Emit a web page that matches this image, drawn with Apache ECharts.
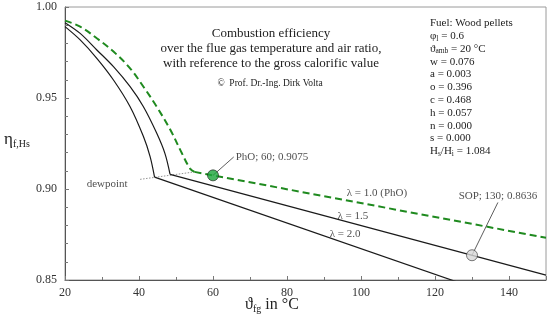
<!DOCTYPE html>
<html>
<head>
<meta charset="utf-8">
<script src="https://cdn.jsdelivr.net/npm/echarts@6/dist/echarts.min.js"></script>
<style>
html,body{margin:0;padding:0;background:#fff;}
#c{width:550px;height:325px;}
</style>
</head>
<body>
<div id="c"></div>
<script>
// ---- data ----
// curved part (above dewpoint) and straight part (below dewpoint) of each curve
const lambda10Curve = [[20,0.9925],[24.1,0.9892],[28.6,0.9828],[33.1,0.9755],[37.6,0.9663],[41.2,0.9562],[44.8,0.9452],[48.5,0.9324],[51.6,0.9196],[53.8,0.9112],[55.0,0.9094]];
const lambda10Line  = [[55.0,0.9094],[150,0.8732]];
const lambda15Curve = [[20,0.9914],[24.1,0.9855],[28.6,0.9764],[33.1,0.9672],[37.6,0.9562],[41.2,0.9452],[44.8,0.9306],[47.0,0.9196],[48.4,0.9080]];
const lambda15Line  = [[48.4,0.9080],[150,0.8527]];
const lambda20Curve = [[20,0.9892],[24.1,0.9819],[28.6,0.9718],[33.1,0.9599],[37.6,0.9452],[41.2,0.9288],[43.0,0.9178],[44.2,0.9065]];
const lambda20Line  = [[44.2,0.9065],[150,0.8320]];
const dewpointLine = [[40.3,0.9053],[55.0,0.9094]];
const phoPoint = [60, 0.9075];
const sopPoint = [130, 0.8636];
const xTicks = [20,40,60,80,100,120,140];
const yTicks = [0.85,0.90,0.95,1.00];
const lambdaNames = ['λ = 1.0 (PhO)','λ = 1.5','λ = 2.0'];
const phoText = 'PhO; 60; 0.9075';
const sopText = 'SOP; 130; 0.8636';
const dewText = 'dewpoint';

// annotation anchors (layout)
const lambdaLabelAt = [[104.3,0.8978],[97.8,0.8852],[95.7,0.8753]];
const phoLabelAt = [65.6,0.9176];
const sopLabelAt = [137.0,0.8926];
const dewLabelAt = [31.4,0.9027];

const FONT = 'Liberation Serif';
const chart = echarts.init(document.getElementById('c'), null, {renderer:'canvas'});

const blackStyle = {color:'#1a1a1a', width:1.2};
const greenStyle = {color:'#1f8a1f', width:2, type:[7,4]};
function curve(data, style, z){ return {type:'line',data:data,symbol:'none',smooth:0.35,lineStyle:style,z:z}; }
function straight(data, style, z){ return {type:'line',data:data,symbol:'none',lineStyle:style,z:z}; }

const option = {
  animation:false,
  backgroundColor:'#fff',
  textStyle:{fontFamily:FONT},
  grid:{left:65,right:4,top:7,bottom:45,show:true,borderColor:'#9a9a9a',borderWidth:1,backgroundColor:'transparent'},
  xAxis:{
    type:'value',min:20,max:150,interval:20,
    axisLine:{lineStyle:{color:'#555',width:1}},
    axisTick:{inside:true,length:4,lineStyle:{color:'#777'}},
    minorTick:{show:true,splitNumber:2,length:3,lineStyle:{color:'#777'}},
    splitLine:{show:false},
    axisLabel:{fontFamily:FONT,fontSize:12,color:'#333',margin:7,
      formatter:v=>xTicks.indexOf(v)>=0?String(v):''}
  },
  yAxis:{
    type:'value',min:0.85,max:1.0,interval:0.05,
    axisLine:{show:true,lineStyle:{color:'#555',width:1}},
    axisTick:{show:true,inside:true,length:4,lineStyle:{color:'#777'}},
    minorTick:{show:true,splitNumber:5,length:3,lineStyle:{color:'#777'}},
    splitLine:{show:false},
    axisLabel:{fontFamily:FONT,fontSize:12,color:'#333',margin:8,
      formatter:v=>v.toFixed(2)}
  },
  series:[
    {type:'line',data:dewpointLine,symbol:'none',lineStyle:{color:'#777',width:0.8,type:[1.5,1.5]},z:2},
    curve(lambda20Curve, blackStyle, 3), straight(lambda20Line, blackStyle, 3),
    curve(lambda15Curve, blackStyle, 3), straight(lambda15Line, blackStyle, 3),
    curve(lambda10Curve, greenStyle, 4), straight(lambda10Line, greenStyle, 4),
    // leader lines
    {type:'line',data:[phoPoint,phoLabelAt],symbol:'none',lineStyle:{color:'#333',width:0.8},z:5},
    {type:'line',data:[sopPoint,sopLabelAt],symbol:'none',lineStyle:{color:'#333',width:0.8},z:5},
    // markers
    {type:'scatter',data:[phoPoint],symbolSize:11,itemStyle:{color:'#1aa53a',borderColor:'#1a1a1a',borderWidth:0.8},z:6},
    {type:'scatter',data:[sopPoint],symbolSize:11,itemStyle:{color:'#d8d8d8',borderColor:'#333',borderWidth:0.8},z:6},
    // text annotations
    {type:'scatter',symbolSize:0,silent:true,z:7,
      data:lambdaLabelAt.map((p,i)=>({value:p,name:lambdaNames[i]})),
      label:{show:true,position:'inside',formatter:p=>p.name,fontFamily:FONT,fontSize:11,color:'#222'}},
    {type:'scatter',symbolSize:0,silent:true,z:7,
      data:[{value:phoLabelAt,name:phoText}],
      label:{show:true,position:'right',distance:2,formatter:p=>p.name,fontFamily:FONT,fontSize:11,color:'#222'}},
    {type:'scatter',symbolSize:0,silent:true,z:7,
      data:[{value:sopLabelAt,name:sopText}],
      label:{show:true,position:'top',distance:1,formatter:p=>p.name,fontFamily:FONT,fontSize:11,color:'#222'}},
    {type:'scatter',symbolSize:0,silent:true,z:7,
      data:[{value:dewLabelAt,name:dewText}],
      label:{show:true,position:'inside',formatter:p=>p.name,fontFamily:FONT,fontSize:11,color:'#222'}}
  ],
  graphic:[
    {type:'text',z:10,position:[271,26],
      style:{text:'Combustion efficiency\nover the flue gas temperature and air ratio,\nwith reference to the gross calorific value',
        fontFamily:FONT,fontSize:13,lineHeight:15,fill:'#222',textAlign:'center'}},
    {type:'text',z:10,position:[270,78],
      style:{text:'©  Prof. Dr.-Ing. Dirk Volta',fontFamily:FONT,fontSize:9.5,fill:'#222',textAlign:'center'}},
    {type:'text',z:10,position:[430,17],
      style:{
        text:'Fuel: Wood pellets\nφ{s|l} = 0.6\nϑ{s|amb} = 20 °C\nw = 0.076\na = 0.003\no = 0.396\nc = 0.468\nh = 0.057\nn = 0.000\ns = 0.000\nH{s|s}/H{s|i} = 1.084',
        fontFamily:FONT,fontSize:11,lineHeight:12.8,fill:'#222',
        rich:{s:{fontFamily:FONT,fontSize:7.5,lineHeight:12.8,verticalAlign:'bottom',fill:'#222'}}
      }},
    {type:'text',z:10,position:[4,131],
      style:{text:'η{s|f,Hs}',fontFamily:FONT,fontSize:17,lineHeight:18,fill:'#222',
        rich:{s:{fontFamily:FONT,fontSize:10,lineHeight:10,verticalAlign:'bottom',fill:'#222'}}}},
    {type:'text',z:10,position:[272,296],
      style:{text:'ϑ{s|fg} in °C',fontFamily:FONT,fontSize:16,lineHeight:18,fill:'#222',textAlign:'center',
        rich:{s:{fontFamily:FONT,fontSize:10,lineHeight:10,verticalAlign:'bottom',fill:'#222'}}}}
  ]
};
chart.setOption(option);
</script>
</body>
</html>
